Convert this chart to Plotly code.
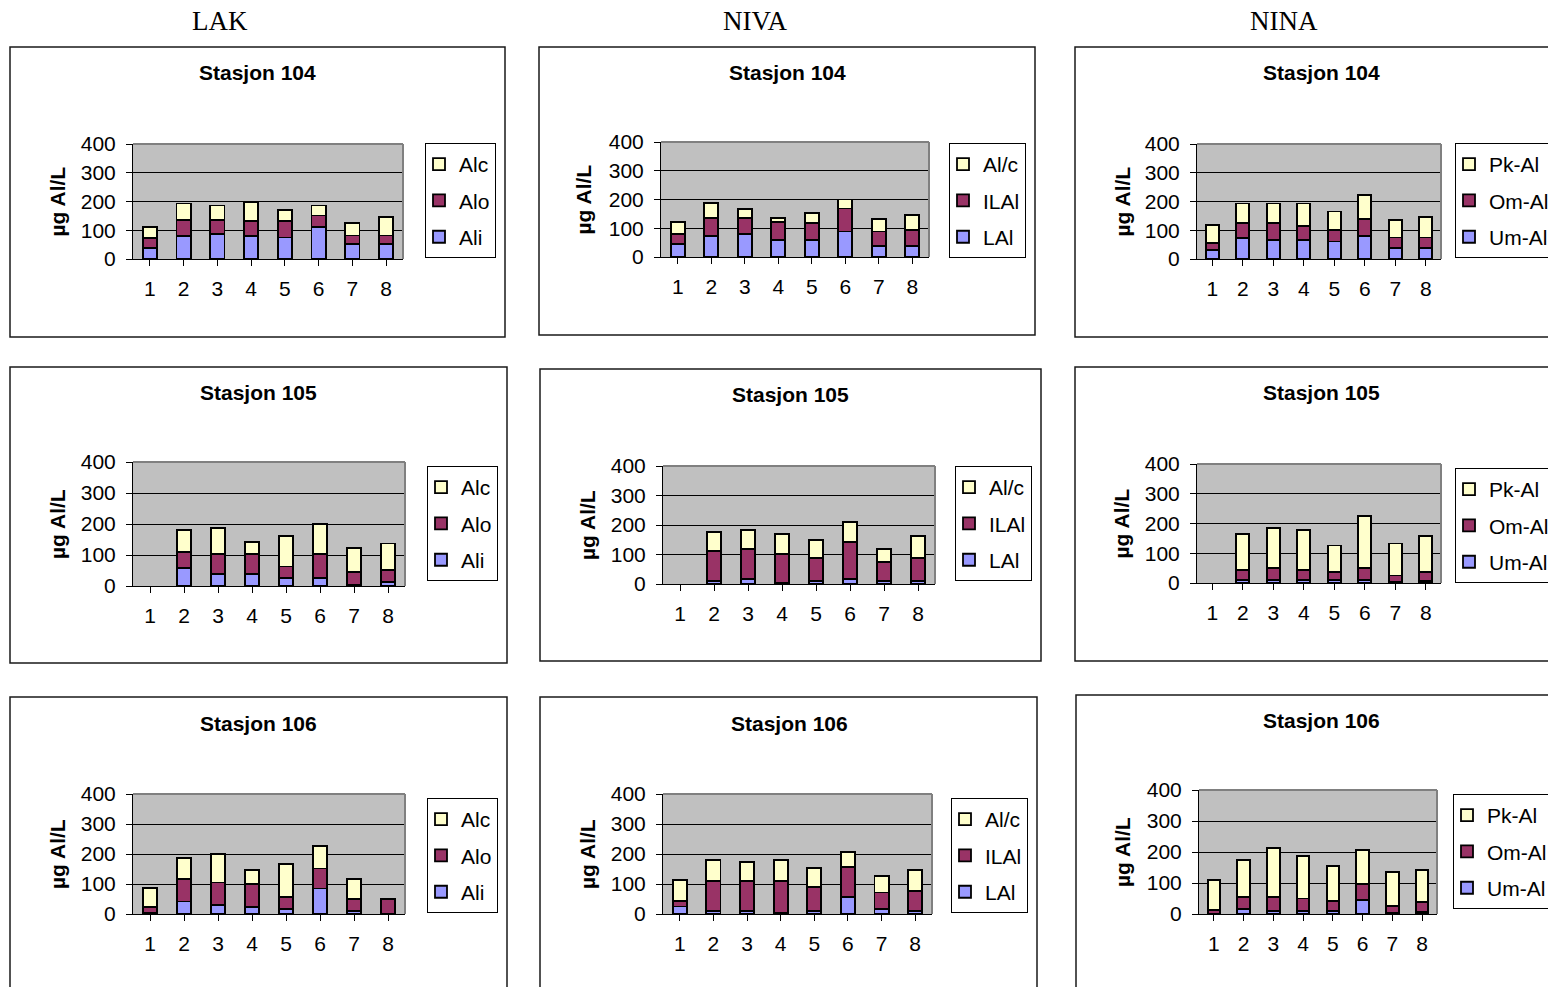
import plotly.graph_objects as go

W, H = 1548, 987

categories = [1, 2, 3, 4, 5, 6, 7, 8]
tick_labels = ["1", "2", "3", "4", "5", "6", "7", "8"]
y_ticks = [0, 100, 200, 300, 400]

column_titles = ["LAK", "NIVA", "NINA"]
station_titles = ["Stasjon 104", "Stasjon 105", "Stasjon 106"]
y_title = "µg Al/L"

lak_names = ["Ali", "Alo", "Alc"]
niva_names = ["LAl", "ILAl", "Al/c"]
nina_names = ["Um-Al", "Om-Al", "Pk-Al"]

# LAK
lak104_ali = [38, 81, 88, 81, 75, 110, 53, 53]
lak104_alo = [35, 55, 48, 50, 56, 41, 29, 29]
lak104_alc = [37, 57, 50, 68, 40, 35, 42, 63]
lak105_ali = [None, 57, 38, 38, 25, 25, 2, 13]
lak105_alo = [None, 52, 65, 65, 38, 78, 43, 38]
lak105_alc = [None, 72, 85, 40, 99, 97, 77, 86]
lak106_ali = [5, 42, 29, 23, 16, 85, 10, None]
lak106_alo = [18, 75, 76, 76, 41, 67, 39, 51]
lak106_alc = [63, 69, 94, 47, 109, 74, 69, None]

# NIVA
niva104_lal = [45, 74, 81, 60, 60, 89, 39, 39]
niva104_ilal = [36, 61, 54, 62, 58, 80, 50, 56]
niva104_alc = [42, 52, 31, 15, 34, 31, 42, 51]
niva105_lal = [None, 11, 18, 4, 11, 18, 11, 11]
niva105_ilal = [None, 101, 102, 97, 76, 124, 63, 76]
niva105_alc = [None, 64, 62, 68, 61, 68, 46, 76]
niva106_lal = [25, 10, 10, 5, 10, 58, 17, 10]
niva106_ilal = [18, 100, 100, 105, 80, 99, 55, 67]
niva106_alc = [70, 69, 63, 69, 63, 49, 54, 69]

# NINA
nina104_um = [32, 73, 67, 67, 61, 81, 38, 38]
nina104_om = [23, 52, 58, 49, 41, 58, 37, 37]
nina104_pk = [63, 68, 68, 77, 63, 83, 61, 70]
nina105_um = [None, 11, 11, 11, 11, 11, 3, 7]
nina105_om = [None, 34, 39, 34, 27, 39, 22, 31]
nina105_pk = [None, 120, 136, 133, 88, 176, 108, 121]
nina106_um = [None, 17, 10, 10, 10, 44, 2, 7]
nina106_om = [12, 38, 45, 40, 32, 54, 23, 31]
nina106_pk = [97, 119, 158, 138, 113, 108, 110, 103]

colors = ["#9999FF", "#993366", "#FFFFCC"]

panel_data = [
    (lak_names, [lak104_ali, lak104_alo, lak104_alc]),
    (niva_names, [niva104_lal, niva104_ilal, niva104_alc]),
    (nina_names, [nina104_um, nina104_om, nina104_pk]),
    (lak_names, [lak105_ali, lak105_alo, lak105_alc]),
    (niva_names, [niva105_lal, niva105_ilal, niva105_alc]),
    (nina_names, [nina105_um, nina105_om, nina105_pk]),
    (lak_names, [lak106_ali, lak106_alo, lak106_alc]),
    (niva_names, [niva106_lal, niva106_ilal, niva106_alc]),
    (nina_names, [nina106_um, nina106_om, nina106_pk]),
]

# geometry in pixels: plot area (x0,x1,y0,y1), box (x0,x1,y0,y1), legend (x,y), title (x,y), ytitle x
geom = [
    ((133, 403, 144, 259), (10, 505, 47, 337), (425, 143), (257, 72), 57),
    ((661, 929, 142, 257), (539, 1035, 47, 335), (949, 143), (787, 72), 583),
    ((1197, 1441, 144, 259), (1075, 1570, 47, 337), (1455, 143), (1321, 72), 1122),
    ((133, 405, 462, 586), (10, 507, 367, 663), (427, 466), (258, 392), 57),
    ((663, 935, 466, 584), (540, 1041, 369, 661), (955, 466), (791, 394), 587),
    ((1197, 1441, 464, 583), (1075, 1570, 367, 661), (1455, 468), (1321, 392), 1121),
    ((133, 405, 794, 914), (10, 507, 697, 1010), (427, 798), (258, 723), 57),
    ((663, 932, 794, 914), (540, 1037, 697, 1010), (951, 798), (789, 723), 587),
    ((1199, 1437, 790, 914), (1076, 1570, 695, 1010), (1453, 794), (1321, 720), 1122),
]
header_pos = [(220, 21), (755, 21), (1284, 21)]

FONT = "Liberation Sans, Arial, sans-serif"
SERIF = "Liberation Serif, Times New Roman, serif"


def fx(px):
    return px / W


def fy(py):
    return 1 - py / H


fig = go.Figure()
layout = dict(
    width=W, height=H, autosize=False,
    margin=dict(l=0, r=0, t=0, b=0, pad=0, autoexpand=False),
    paper_bgcolor="white", plot_bgcolor="#C0C0C0",
    barmode="stack", bargap=0.58,
    font=dict(family=FONT, size=21, color="black"),
    showlegend=True,
)
shapes = []
annotations = []

for i, ((names, series), g) in enumerate(zip(panel_data, geom), start=1):
    (px0, px1, py0, py1), (bx0, bx1, by0, by1), (lx, ly), (tx, ty), ytx = g
    xa = "x" if i == 1 else f"x{i}"
    ya = "y" if i == 1 else f"y{i}"
    lg = "legend" if i == 1 else f"legend{i}"
    for k, (name, vals) in enumerate(zip(names, series)):
        fig.add_trace(go.Bar(
            x=categories, y=vals, name=name, xaxis=xa, yaxis=ya,
            legend=lg, legendgroup=f"{i}_{k}", legendrank=10 - k,
            marker=dict(color=colors[k], line=dict(color="black", width=1.8)),
            hoverinfo="skip",
        ))
    xkey = "xaxis" if i == 1 else f"xaxis{i}"
    ykey = "yaxis" if i == 1 else f"yaxis{i}"
    layout[xkey] = dict(
        domain=[fx(px0), fx(px1)], anchor=ya, automargin=False,
        range=[0.5, 8.5], tickmode="array", tickvals=categories, ticktext=tick_labels,
        tickson="boundaries", ticks="outside", ticklen=6, tickwidth=1, tickcolor="black",
        showline=True, linecolor="black", linewidth=1, showgrid=False, zeroline=False,
        ticklabelstandoff=5, tickfont=dict(size=21, family=FONT), fixedrange=True,
    )
    layout[ykey] = dict(
        domain=[fy(py1), fy(py0)], anchor=xa, automargin=False,
        range=[0, 400], tickmode="array", tickvals=y_ticks,
        ticks="outside", ticklen=6, tickwidth=1, tickcolor="black",
        showline=True, linecolor="black", linewidth=1,
        showgrid=True, gridcolor="black", gridwidth=1, zeroline=False,
        ticklabelstandoff=6, tickfont=dict(size=21, family=FONT), fixedrange=True,
    )
    layout[lg] = dict(
        x=fx(lx), y=fy(ly), xanchor="left", yanchor="top",
        bgcolor="white", bordercolor="black", borderwidth=1,
        traceorder="grouped", tracegroupgap=6, indentation=-7,
        font=dict(size=21, family=FONT),
    )
    # plot-area top/right gray border
    shapes.append(dict(type="line", xref=f"{xa} domain", yref=f"{ya} domain",
                       x0=0, x1=1, y0=1, y1=1, line=dict(color="#808080", width=2), layer="above"))
    shapes.append(dict(type="line", xref=f"{xa} domain", yref=f"{ya} domain",
                       x0=1, x1=1, y0=0, y1=1, line=dict(color="#808080", width=2), layer="above"))
    # outer chart box
    shapes.append(dict(type="rect", xref="paper", yref="paper",
                       x0=fx(bx0), x1=fx(bx1), y0=fy(by1), y1=fy(by0),
                       line=dict(color="#1a1a1a", width=1.5), fillcolor="rgba(0,0,0,0)", layer="below"))
    row = (i - 1) // 3
    annotations.append(dict(text=f"<b>{station_titles[row]}</b>", xref="paper", yref="paper",
                            x=fx(tx), y=fy(ty), xanchor="center", yanchor="middle",
                            showarrow=False, font=dict(size=21, family=FONT)))
    annotations.append(dict(text=f"<b>{y_title}</b>", xref="paper", yref="paper",
                            x=fx(ytx), y=fy((py0 + py1) / 2), xanchor="center", yanchor="middle",
                            textangle=-90, showarrow=False, font=dict(size=21, family=FONT)))

for t, (hx, hy) in zip(column_titles, header_pos):
    annotations.append(dict(text=t, xref="paper", yref="paper", x=fx(hx), y=fy(hy),
                            xanchor="center", yanchor="middle", showarrow=False,
                            font=dict(size=27, family=SERIF)))

layout["shapes"] = shapes
layout["annotations"] = annotations
fig.update_layout(**layout)

fig.write_html("out.html", config={"displayModeBar": False},
               post_script="document.body.style.margin='0';document.body.style.overflow='hidden';")
